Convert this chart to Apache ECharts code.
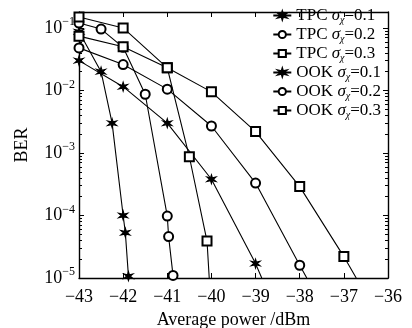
<!DOCTYPE html>
<html>
<head>
<meta charset="utf-8">
<script src="https://cdn.jsdelivr.net/npm/echarts@6/dist/echarts.min.js"></script>
<style>
  html, body { margin: 0; padding: 0; background: #fff; }
  #chart { width: 412px; height: 328px; }
</style>
</head>
<body>
<div id="chart"></div>
<script>
// legend labels
const methods = ["TPC", "TPC", "TPC", "OOK", "OOK", "OOK"];
const sigmas = ["0.1", "0.2", "0.3", "0.1", "0.2", "0.3"];
const xTicks = [-43, -42, -41, -40, -39, -38, -37, -36];

// average power (dBm) and BER
const tpc1X = [-43, -42.5, -42.25, -42, -41.95, -41.88];
const tpc1Y = [0.087, 0.020, 0.0030, 1.0e-4, 5.3e-5, 1.07e-5];
const tpc2X = [-43, -42.5, -42, -41.5, -41, -40.97, -40.87];
const tpc2Y = [0.12, 0.096, 0.049, 0.0087, 9.8e-5, 4.6e-5, 1.1e-5];
const tpc3X = [-43, -42, -41, -40.5, -40.1, -40.05];
const tpc3Y = [0.15, 0.10, 0.023, 8.7e-4, 3.9e-5, 1e-5];
const ook1X = [-43, -42, -41, -40, -39, -38.86];
const ook1Y = [0.030, 0.0115, 0.0030, 3.8e-4, 1.7e-5, 1e-5];
const ook2X = [-43, -42, -41, -40, -39, -38, -37.84];
const ook2Y = [0.048, 0.026, 0.0105, 0.0027, 3.3e-4, 1.6e-5, 1e-5];
const ook3X = [-43, -42, -41, -40, -39, -38, -37, -36.72];
const ook3Y = [0.074, 0.050, 0.023, 0.0095, 0.0022, 2.9e-4, 2.2e-5, 1e-5];
// curves that run past the bottom edge end there without a marker
const endsAtAxis = [false, false, true, true, true, true];

const chart = echarts.init(document.getElementById("chart"));

const serif = "'Liberation Serif', 'DejaVu Serif', serif";
const star = "path://M0,-5L0.9,-1.6L4.3,-2.5L1.8,0L4.3,2.5L0.9,1.6L0,5L-0.9,1.6L-4.3,2.5L-1.8,0L-4.3,-2.5L-0.9,-1.6Z";
const symbols = [star, "emptyCircle", "emptyRect", star, "emptyCircle", "emptyRect"];
const sizes = [9, 9, 9, 9, 9, 9];
const xs = [tpc1X, tpc2X, tpc3X, ook1X, ook2X, ook3X];
const ys = [tpc1Y, tpc2Y, tpc3Y, ook1Y, ook2Y, ook3Y];

const names = methods.map((m, i) => m + " σχ=" + sigmas[i]);

const series = names.map((name, i) => ({
  name: name,
  type: "line",
  symbol: symbols[i],
  symbolSize: sizes[i],
  color: "#000",
  lineStyle: { color: "#000", width: 1.1 },
  itemStyle: { color: "#000", borderColor: "#000", borderWidth: 1.1 },
  data: xs[i].map((x, k) => {
    const item = { value: [x, ys[i][k]] };
    if (endsAtAxis[i] && k === xs[i].length - 1) item.symbol = "none";
    return item;
  }),
}));

const minus = (s) => String(s).replace("-", "−");

const logLabel = (v) => {
  const l = Math.log10(v);
  const e = Math.round(l);
  if (Math.abs(l - e) > 1e-6) return "";
  return "{b|10}{p|" + minus(e) + "}";
};

const frameLine = { show: true, lineStyle: { color: "#000", width: 1.4 } };

const options = {
  animation: false,
  textStyle: { fontFamily: serif },
  grid: { left: 79, right: 24, top: 12, bottom: 50, outerBoundsMode: "none" },
  legend: {
    orient: "vertical",
    right: 26,
    top: 1,
    itemWidth: 18,
    itemHeight: 9,
    itemGap: 0,
    textStyle: {
      color: "#000",
      fontFamily: serif,
      fontSize: 17,
      rich: {
        t: { fontSize: 17, lineHeight: 19, fontFamily: serif, color: "#000" },
        s: { fontSize: 17, lineHeight: 19, fontFamily: serif, fontStyle: "italic", color: "#000" },
        c: { fontSize: 10, lineHeight: 10, fontFamily: serif, fontStyle: "italic", color: "#000", padding: [9, 0, 0, 0] },
      },
    },
    formatter: (name) => {
      const i = names.indexOf(name);
      return "{t|" + methods[i] + " }{s|σ}{c|χ}{t|=" + sigmas[i] + "}";
    },
    data: names,
  },
  xAxis: [
    {
      type: "value",
      min: xTicks[0],
      max: xTicks[xTicks.length - 1],
      interval: 1,
      name: "Average power /dBm",
      nameLocation: "middle",
      nameGap: 32,
      nameTextStyle: { fontFamily: serif, fontSize: 18, color: "#000" },
      axisLine: frameLine,
      axisTick: { show: true, inside: true, length: 5, lineStyle: { color: "#000" } },
      axisLabel: { color: "#000", fontFamily: serif, fontSize: 18, margin: 10, formatter: minus },
      splitLine: { show: false },
    },
    {
      type: "value",
      position: "top",
      min: xTicks[0],
      max: xTicks[xTicks.length - 1],
      interval: 1,
      axisLine: frameLine,
      axisTick: { show: true, inside: true, length: 5, lineStyle: { color: "#000" } },
      axisLabel: { show: false },
      splitLine: { show: false },
    },
  ],
  yAxis: [
    {
      type: "log",
      logBase: 10,
      min: 1e-5,
      max: 0.18,
      name: "BER",
      nameLocation: "middle",
      nameGap: 48,
      nameTextStyle: { fontFamily: serif, fontSize: 18, color: "#000" },
      axisLine: frameLine,
      axisTick: { show: true, inside: true, length: 5, lineStyle: { color: "#000" } },
      minorTick: { show: true, splitNumber: 9, length: 3, lineStyle: { color: "#000" } },
      axisLabel: {
        color: "#000",
        margin: 4,
        showMaxLabel: false,
        formatter: logLabel,
        rich: {
          b: { fontFamily: serif, fontSize: 18, lineHeight: 18, color: "#000" },
          p: { fontFamily: serif, fontSize: 12, lineHeight: 12, color: "#000", padding: [0, 0, 12, 0] },
        },
      },
      splitLine: { show: false },
    },
    {
      type: "log",
      logBase: 10,
      position: "right",
      min: 1e-5,
      max: 0.18,
      axisLine: frameLine,
      axisTick: { show: true, inside: true, length: 5, lineStyle: { color: "#000" } },
      minorTick: { show: true, splitNumber: 9, length: 3, lineStyle: { color: "#000" } },
      axisLabel: { show: false },
      splitLine: { show: false },
    },
  ],
  series: series,
};

chart.setOption(options);
</script>
</body>
</html>
